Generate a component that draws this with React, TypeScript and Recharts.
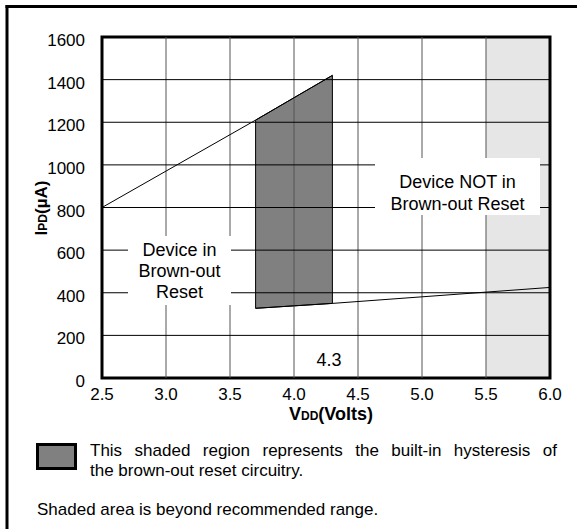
import {
  Area,
  ComposedChart,
  Line,
  ReferenceArea,
  ReferenceLine,
  XAxis,
  YAxis,
} from "recharts";

const FONT = '"Liberation Sans", Arial, Helvetica, sans-serif';

const VOLT_TICKS = [2.5, 3.0, 3.5, 4.0, 4.5, 5.0, 5.5, 6.0];
const CURRENT_TICKS = [0, 200, 400, 600, 800, 1000, 1200, 1400, 1600];

// upper trip line (leaving brown-out reset)
const upperVolts = [2.5, 3.7, 4.3];
const upperCurrent = [800, 1210, 1420];

// lower line (entering brown-out reset)
const lowerVolts = [3.7, 4.3, 6.0];
const lowerCurrent = [327, 350, 425];

// hysteresis band
const bandVolts = [3.7, 4.3];
const bandLow = [327, 350];
const bandHigh = [1210, 1420];

// beyond recommended range
const outOfRange = [5.5, 6.0];

const upperData = upperVolts.map((v, idx) => ({ v, i: upperCurrent[idx] }));
const lowerData = lowerVolts.map((v, idx) => ({ v, i: lowerCurrent[idx] }));
const bandData = bandVolts.map((v, idx) => ({
  v,
  range: [bandLow[idx], bandHigh[idx]],
}));

const XTick = ({ x, y, payload }: any) => (
  <text x={x} y={y} dy="0.71em" textAnchor="middle" fontSize={17} fontFamily={FONT} fill="#000">
    {Number(payload.value).toFixed(1)}
  </text>
);

const YTick = ({ x, y, payload }: any) => (
  <text x={x} y={y + 3} dy="0.355em" textAnchor="end" fontSize={17} fontFamily={FONT} fill="#000">
    {payload.value}
  </text>
);

const App = () => {
  return (
    <div
      style={{
        position: "absolute",
        left: 0,
        top: 0,
        width: 577,
        height: 529,
        overflow: "hidden",
        background: "#fff",
        fontFamily: FONT,
      }}
    >
      <ComposedChart width={577} height={529} margin={{ top: 37, right: 27, bottom: 121, left: 0 }}>
        <XAxis
          type="number"
          dataKey="v"
          domain={[2.5, 6]}
          ticks={VOLT_TICKS}
          interval={0}
          axisLine={false}
          tickLine={false}
          tickSize={0}
          tickMargin={10}
          height={30}
          tick={XTick}
        />
        <YAxis
          type="number"
          domain={[0, 1600]}
          ticks={CURRENT_TICKS}
          interval={0}
          width={102}
          axisLine={false}
          tickLine={false}
          tickSize={0}
          tickMargin={17}
          tick={YTick}
        />
        <ReferenceArea
          x1={outOfRange[0]}
          x2={outOfRange[1]}
          y1={0}
          y2={1600}
          fill="#e6e6e6"
          fillOpacity={1}
          stroke="none"
        />
        <Area
          data={bandData}
          dataKey="range"
          type="linear"
          fill="#808080"
          fillOpacity={1}
          stroke="#000"
          strokeWidth={1}
          dot={false}
          activeDot={false}
          isAnimationActive={false}
        />
        {bandVolts.map((v, idx) => (
          <ReferenceLine
            key={`edge-${v}`}
            segment={[
              { x: v, y: bandLow[idx] },
              { x: v, y: bandHigh[idx] },
            ]}
            stroke="#000"
            strokeWidth={1}
          />
        ))}
        {VOLT_TICKS.slice(1, -1).map((v) => (
          <ReferenceLine key={`vx-${v}`} x={v} stroke="#555" strokeWidth={1} />
        ))}
        {CURRENT_TICKS.slice(1, -1).map((c) => (
          <ReferenceLine key={`hy-${c}`} y={c} stroke="#000" strokeWidth={1} />
        ))}
        <Line
          data={upperData}
          dataKey="i"
          type="linear"
          stroke="#000"
          strokeWidth={1}
          dot={false}
          activeDot={false}
          isAnimationActive={false}
        />
        <Line
          data={lowerData}
          dataKey="i"
          type="linear"
          stroke="#000"
          strokeWidth={1}
          dot={false}
          activeDot={false}
          isAnimationActive={false}
        />
        <ReferenceArea x1={2.5} x2={6} y1={0} y2={1600} fill="none" stroke="#000" strokeWidth={3} />
      </ComposedChart>

      {/* labels, frame and legend */}
      <svg width={577} height={529} style={{ position: "absolute", left: 0, top: 0, pointerEvents: "none" }}>
        <line x1={7} y1={5} x2={7} y2={529} stroke="#000" strokeWidth={3} />
        <line x1={5.5} y1={6.5} x2={577} y2={6.5} stroke="#000" strokeWidth={3} />
        <text
          transform="translate(47,208) rotate(-90)"
          textAnchor="middle"
          fontSize={17}
          fontWeight="bold"
          fontFamily={FONT}
        >
          I<tspan fontSize={12}>PD</tspan>(µA)
        </text>
        <text x={331} y={420} textAnchor="middle" fontSize={18} fontWeight="bold" fontFamily={FONT}>
          V<tspan fontSize={12}>DD</tspan>(Volts)
        </text>
        <text x={329} y={365.5} textAnchor="middle" fontSize={18} fontFamily={FONT}>
          4.3
        </text>
        <rect x={37.5} y={444.5} width={38} height={24} fill="#808080" stroke="#000" strokeWidth={3} />
      </svg>

      <div
        style={{
          position: "absolute",
          left: 128,
          top: 236,
          width: 103,
          height: 69,
          paddingTop: 4,
          boxSizing: "border-box",
          background: "#fff",
          textAlign: "center",
          fontSize: 18,
          lineHeight: "21px",
        }}
      >
        Device in
        <br />
        Brown-out
        <br />
        Reset
      </div>
      <div
        style={{
          position: "absolute",
          left: 375,
          top: 158,
          width: 165,
          height: 57,
          paddingTop: 14,
          boxSizing: "border-box",
          background: "#fff",
          textAlign: "center",
          fontSize: 18,
          lineHeight: "21.5px",
        }}
      >
        Device NOT in
        <br />
        Brown-out Reset
      </div>

      <div style={{ position: "absolute", left: 90, top: 441, width: 467, fontSize: 17, lineHeight: "20.4px" }}>
        <div style={{ textAlign: "justify", textAlignLast: "justify" }}>
          This shaded region represents the built-in hysteresis of
        </div>
        <div>the brown-out reset circuitry.</div>
      </div>
      <div style={{ position: "absolute", left: 37, top: 500, fontSize: 17, lineHeight: "20.4px", whiteSpace: "nowrap" }}>
        Shaded area is beyond recommended range.
      </div>
    </div>
  );
};

export default App;
